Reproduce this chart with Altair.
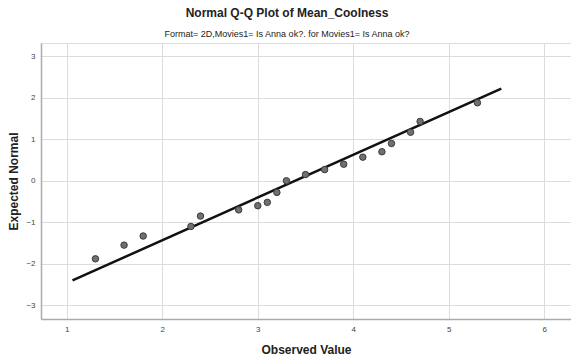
import altair as alt
import pandas as pd

# Observed values and their expected normal scores
observed = [1.3, 1.6, 1.8, 2.3, 2.4, 2.8, 3.0, 3.1, 3.2, 3.3,
            3.5, 3.7, 3.9, 4.1, 4.3, 4.4, 4.6, 4.7, 5.3]
expected = [-1.88, -1.55, -1.33, -1.10, -0.85, -0.70, -0.60, -0.52, -0.28, 0.00,
            0.15, 0.27, 0.40, 0.57, 0.70, 0.90, 1.17, 1.43, 1.88]

# Reference line endpoints
line_x = [1.06, 5.55]
line_y = [-2.40, 2.22]

points = pd.DataFrame({"observed": observed, "expected": expected})
ref = pd.DataFrame({"observed": line_x, "expected": line_y})

FONT = "Liberation Sans"

x_scale = alt.Scale(domain=[0.73, 6.28], nice=False, zero=False)
y_scale = alt.Scale(domain=[-3.33, 3.32], nice=False, zero=False)

x_enc = alt.X(
    "observed:Q", scale=x_scale,
    axis=alt.Axis(title="Observed Value", values=[1, 2, 3, 4, 5, 6], format="d",
                  titleFontSize=12, titleFontWeight="bold", titleFont=FONT,
                  titleColor="#222", titlePadding=11,
                  labelFontSize=8, labelColor="#444", labelFont=FONT, labelPadding=6,
                  ticks=False, domainColor="#aaaaaa", domainWidth=1.5,
                  gridColor="#dcdcdc", gridWidth=1),
)
y_enc = alt.Y(
    "expected:Q", scale=y_scale,
    axis=alt.Axis(title="Expected Normal", values=[-3, -2, -1, 0, 1, 2, 3], format="d",
                  titleFontSize=12, titleFontWeight="bold", titleFont=FONT,
                  titleColor="#222", titlePadding=5,
                  labelFontSize=8, labelColor="#444", labelFont=FONT, labelPadding=6,
                  ticks=False, domainColor="#aaaaaa", domainWidth=1.5,
                  gridColor="#dcdcdc", gridWidth=1),
)

dots = alt.Chart(points).mark_circle(
    size=42, color="#707070", opacity=1, stroke="#3a3a3a", strokeWidth=1
).encode(x=x_enc, y=y_enc)

fit = alt.Chart(ref).mark_line(color="#111111", strokeWidth=2.5).encode(
    x="observed:Q", y="expected:Q"
)

chart = (fit + dots).properties(
    width=530,
    height=276,
    autosize=alt.AutoSizeParams(type="none"),
    padding={"left": 41, "top": 43, "right": 0, "bottom": 41},
    title=alt.TitleParams(
        text="Normal Q-Q Plot of Mean_Coolness",
        subtitle="Format= 2D,Movies1= Is Anna ok?.  for Movies1= Is Anna ok?",
        font=FONT, fontSize=12, fontWeight="bold", color="#222",
        subtitleFont=FONT, subtitleFontSize=9, subtitleColor="#222",
        subtitlePadding=10, anchor="middle", dx=-19, offset=3,
    ),
).configure_view(stroke=None).configure(background="white")

chart.save("out.html", embed_options={"renderer": "svg", "actions": False})
